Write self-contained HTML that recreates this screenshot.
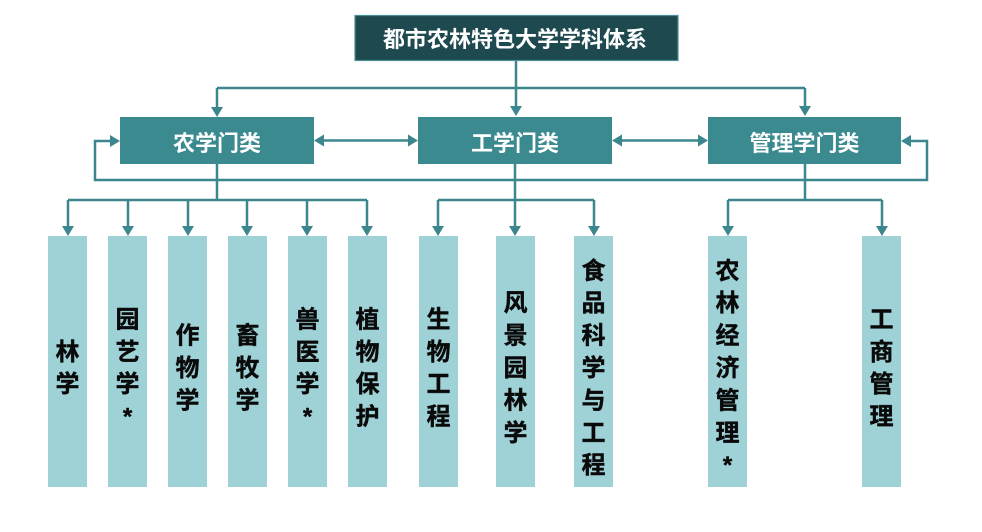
<!DOCTYPE html>
<html><head><meta charset="utf-8">
<style>
html,body{margin:0;padding:0;background:#fff;}
svg{display:block;}
text{font-family:"Liberation Sans","Noto Sans CJK SC",sans-serif;font-weight:bold;}
</style></head>
<body>
<svg width="982" height="532" viewBox="0 0 982 532" xmlns="http://www.w3.org/2000/svg">
<rect x="0" y="0" width="982" height="532" fill="#ffffff"/>
<g stroke="#3c878d" stroke-width="2.5" fill="none">
  <line x1="516" y1="61" x2="516" y2="108"/>
  <line x1="217" y1="88" x2="805" y2="88"/>
  <line x1="217" y1="88" x2="217" y2="108"/>
  <line x1="805" y1="88" x2="805" y2="108"/>
  <line x1="322" y1="140.5" x2="410" y2="140.5"/>
  <line x1="620" y1="140.5" x2="700" y2="140.5"/>
  <polyline points="112,141 95,141 95,180 927,180 927,141 909,141"/>
  <line x1="217" y1="164" x2="217" y2="200"/>
  <line x1="68" y1="200" x2="367" y2="200"/>
  <line x1="68" y1="200" x2="68" y2="228"/>
  <line x1="128" y1="200" x2="128" y2="228"/>
  <line x1="188" y1="200" x2="188" y2="228"/>
  <line x1="247" y1="200" x2="247" y2="228"/>
  <line x1="307" y1="200" x2="307" y2="228"/>
  <line x1="367" y1="200" x2="367" y2="228"/>
  <line x1="515" y1="164" x2="515" y2="228"/>
  <line x1="438" y1="200" x2="594" y2="200"/>
  <line x1="438" y1="200" x2="438" y2="228"/>
  <line x1="594" y1="200" x2="594" y2="228"/>
  <line x1="805" y1="164" x2="805" y2="200"/>
  <line x1="728" y1="200" x2="882" y2="200"/>
  <line x1="728" y1="200" x2="728" y2="228"/>
  <line x1="882" y1="200" x2="882" y2="228"/>
</g>
<g fill="#3c878d">
  <polygon points="211,107 223,107 217,117"/>
  <polygon points="510,106 522,106 516,116"/>
  <polygon points="799,106 811,106 805,116"/>
  <polygon points="314,140.5 324,134.5 324,146.5"/>
  <polygon points="418,140.5 408,134.5 408,146.5"/>
  <polygon points="612,140.5 622,134.5 622,146.5"/>
  <polygon points="708,140.5 698,134.5 698,146.5"/>
  <polygon points="120,141 110,135 110,147"/>
  <polygon points="901,141 911,135 911,147"/>
  <polygon points="62,226 74,226 68,236"/>
  <polygon points="122,226 134,226 128,236"/>
  <polygon points="182,226 194,226 188,236"/>
  <polygon points="241,226 253,226 247,236"/>
  <polygon points="301,226 313,226 307,236"/>
  <polygon points="361,226 373,226 367,236"/>
  <polygon points="432,226 444,226 438,236"/>
  <polygon points="509,226 521,226 515,236"/>
  <polygon points="588,226 600,226 594,236"/>
  <polygon points="722,226 734,226 728,236"/>
  <polygon points="876,226 888,226 882,236"/>
</g>
<rect x="355" y="15.5" width="323" height="45" fill="#1e4a4f" stroke="#4a9096" stroke-width="1.2"/>
<text x="515" y="47" font-size="22" fill="#ffffff" text-anchor="middle">都市农林特色大学学科体系</text>
<rect x="120" y="117" width="194" height="47" fill="#3a8a90"/>
<rect x="418" y="117" width="194" height="47" fill="#3a8a90"/>
<rect x="708" y="117" width="193" height="47" fill="#3a8a90"/>
<g font-size="22" fill="#ffffff" text-anchor="middle">
  <text x="217" y="151">农学门类</text>
  <text x="515" y="151">工学门类</text>
  <text x="804.5" y="151">管理学门类</text>
</g>
<g fill="#9fd2d7">
  <rect x="48" y="236" width="39" height="251"/>
  <rect x="108" y="236" width="39" height="251"/>
  <rect x="168" y="236" width="39" height="251"/>
  <rect x="228" y="236" width="39" height="251"/>
  <rect x="288" y="236" width="39" height="251"/>
  <rect x="348" y="236" width="39" height="251"/>
  <rect x="419" y="236" width="39" height="251"/>
  <rect x="496" y="236" width="39" height="251"/>
  <rect x="574" y="236" width="39" height="251"/>
  <rect x="708" y="236" width="39" height="251"/>
  <rect x="862" y="236" width="39" height="251"/>
</g>
<g font-size="24" fill="#0a0a0a" text-anchor="middle" stroke="#0a0a0a" stroke-width="0.4">
  <text><tspan x="67.5" y="359.8">林</tspan><tspan x="67.5" y="392.2">学</tspan></text>
  <text><tspan x="127.5" y="327.4">园</tspan><tspan x="127.5" y="359.8">艺</tspan><tspan x="127.5" y="392.2">学</tspan><tspan x="127.5" y="424.6">*</tspan></text>
  <text><tspan x="187.5" y="343.6">作</tspan><tspan x="187.5" y="376">物</tspan><tspan x="187.5" y="408.4">学</tspan></text>
  <text><tspan x="247.5" y="343.6">畜</tspan><tspan x="247.5" y="376">牧</tspan><tspan x="247.5" y="408.4">学</tspan></text>
  <text><tspan x="307.5" y="327.4">兽</tspan><tspan x="307.5" y="359.8">医</tspan><tspan x="307.5" y="392.2">学</tspan><tspan x="307.5" y="424.6">*</tspan></text>
  <text><tspan x="367.5" y="327.4">植</tspan><tspan x="367.5" y="359.8">物</tspan><tspan x="367.5" y="392.2">保</tspan><tspan x="367.5" y="424.6">护</tspan></text>
  <text><tspan x="438.5" y="327.4">生</tspan><tspan x="438.5" y="359.8">物</tspan><tspan x="438.5" y="392.2">工</tspan><tspan x="438.5" y="424.6">程</tspan></text>
  <text><tspan x="515.5" y="311.2">风</tspan><tspan x="515.5" y="343.6">景</tspan><tspan x="515.5" y="376">园</tspan><tspan x="515.5" y="408.4">林</tspan><tspan x="515.5" y="440.8">学</tspan></text>
  <text><tspan x="593.5" y="278.8">食</tspan><tspan x="593.5" y="311.2">品</tspan><tspan x="593.5" y="343.6">科</tspan><tspan x="593.5" y="376">学</tspan><tspan x="593.5" y="408.4">与</tspan><tspan x="593.5" y="440.8">工</tspan><tspan x="593.5" y="473.2">程</tspan></text>
  <text><tspan x="727.5" y="278.8">农</tspan><tspan x="727.5" y="311.2">林</tspan><tspan x="727.5" y="343.6">经</tspan><tspan x="727.5" y="376">济</tspan><tspan x="727.5" y="408.4">管</tspan><tspan x="727.5" y="440.8">理</tspan><tspan x="727.5" y="473.2">*</tspan></text>
  <text><tspan x="881.5" y="327.4">工</tspan><tspan x="881.5" y="359.8">商</tspan><tspan x="881.5" y="392.2">管</tspan><tspan x="881.5" y="424.6">理</tspan></text>
</g>
</svg>
</body></html>
